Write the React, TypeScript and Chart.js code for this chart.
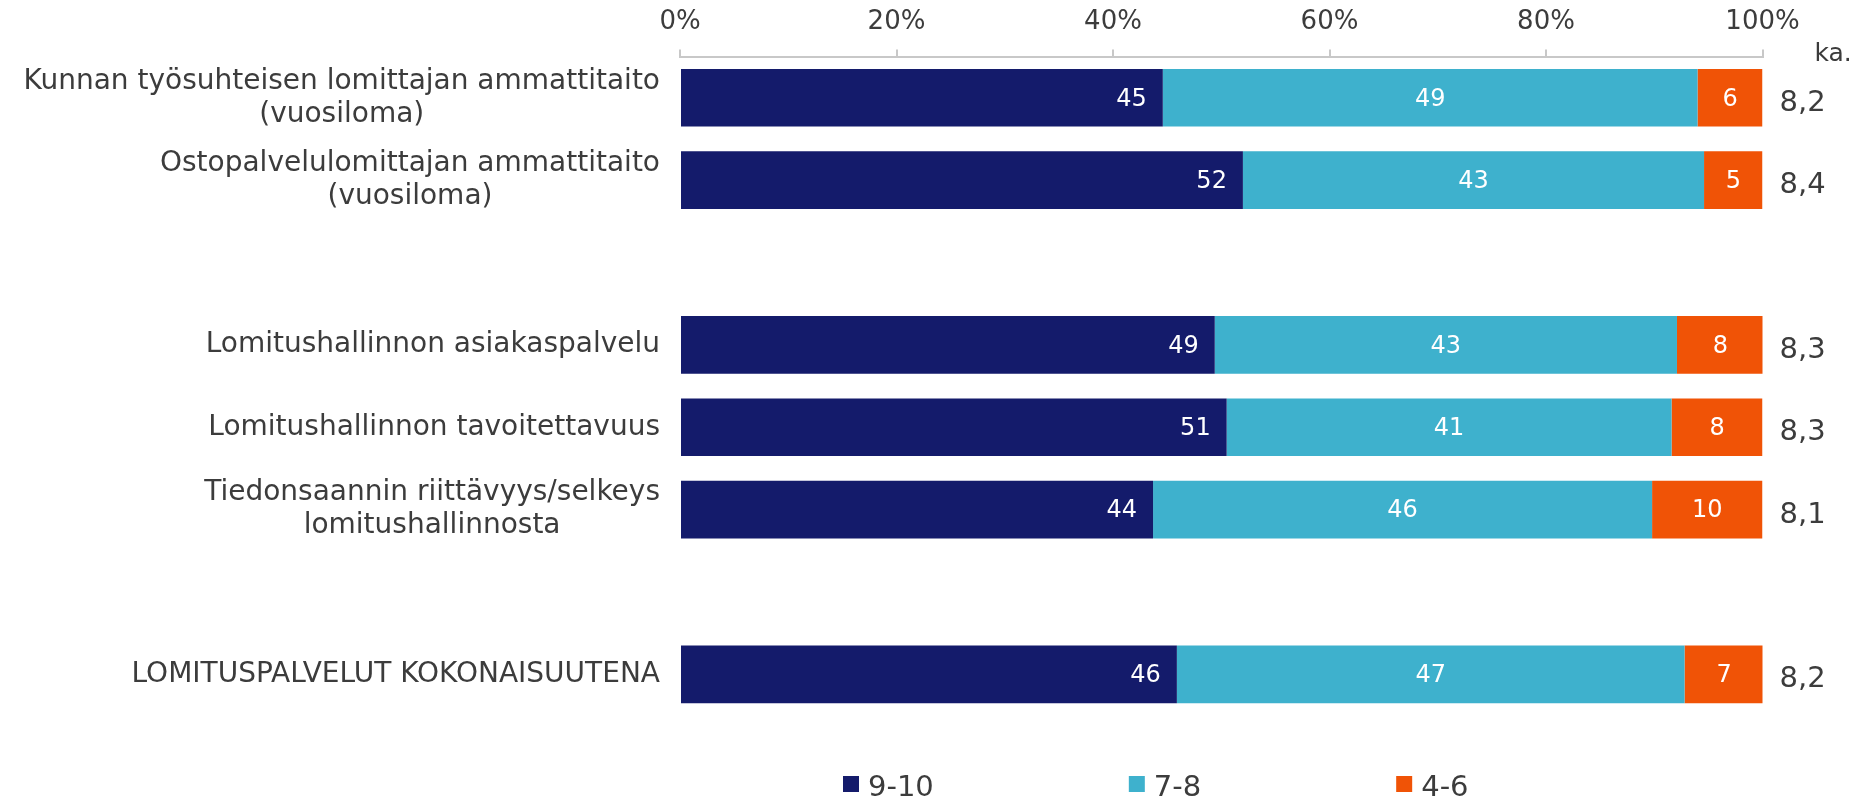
import React, { useEffect, useRef } from 'react';
import { Chart, registerables } from 'chart.js';

Chart.register(...registerables);

// ---- data ----
const categories: string[][] = [
  ['Kunnan työsuhteisen lomittajan ammattitaito', '(vuosiloma)'],
  ['Ostopalvelulomittajan ammattitaito', '(vuosiloma)'],
  [],
  ['Lomitushallinnon asiakaspalvelu'],
  ['Lomitushallinnon tavoitettavuus'],
  ['Tiedonsaannin riittävyys/selkeys', 'lomitushallinnosta'],
  [],
  ['LOMITUSPALVELUT KOKONAISUUTENA'],
];
const seriesNames = ['9-10', '7-8', '4-6'];
const values910: (number | null)[] = [44.6, 52.0, null, 49.4, 50.5, 43.7, null, 45.9];
const values78: (number | null)[] = [49.4, 42.6, null, 42.7, 41.1, 46.1, null, 46.9];
const values46: (number | null)[] = [6.0, 5.4, null, 8.0, 8.4, 10.2, null, 7.3];
const averages = ['8,2', '8,4', '', '8,3', '8,3', '8,1', '', '8,2'];
const avgHeader = 'ka.';
const xTickValues = [0, 20, 40, 60, 80, 100];

// ---- style ----
const FONT = "'DejaVu Sans', Verdana, sans-serif";
const TEXT = '#3c3c3c';
const AXIS = '#c8c8c8';
const colors = ['#141b6b', '#3eb1cd', '#f05306'];

const W = 1860;
const H = 798;

const overlayPlugin = {
  id: 'overlay',
  afterDatasetsDraw(chart: any) {
    const ctx = chart.ctx;
    ctx.save();
    // value labels inside bars
    ctx.fillStyle = '#ffffff';
    ctx.font = `24px ${FONT}`;
    ctx.textBaseline = 'middle';
    chart.data.datasets.forEach((ds: any, i: number) => {
      const meta = chart.getDatasetMeta(i);
      meta.data.forEach((bar: any, j: number) => {
        const v = ds.data[j];
        if (v == null) return;
        const p = bar.getProps(['x', 'y', 'base'], true);
        const txt = String(Math.round(v));
        if (i === 0) {
          ctx.textAlign = 'right';
          ctx.fillText(txt, p.x - 16, p.y + 1.5);
        } else {
          ctx.textAlign = 'center';
          ctx.fillText(txt, (p.x + p.base) / 2, p.y + 1.5);
        }
      });
    });
    ctx.restore();
  },
  afterDraw(chart: any) {
    const ctx = chart.ctx;
    const area = chart.chartArea;
    const yScale = chart.scales.y;
    ctx.save();
    ctx.fillStyle = TEXT;

    // category labels: block right-aligned, lines centered within block
    ctx.font = `28px ${FONT}`;
    ctx.textBaseline = 'middle';
    ctx.textAlign = 'center';
    categories.forEach((lines, j) => {
      if (!lines.length) return;
      const cy = yScale.getPixelForValue(j);
      const maxW = Math.max(...lines.map((l) => ctx.measureText(l).width));
      const cx = area.left - 20 - maxW / 2;
      lines.forEach((l, k) => {
        const ly = cy + (k - (lines.length - 1) / 2) * 33;
        ctx.fillText(l, cx, ly);
      });
    });

    // averages column
    ctx.textAlign = 'left';
    ctx.textBaseline = 'alphabetic';
    ctx.font = `29px ${FONT}`;
    averages.forEach((a, j) => {
      if (!a) return;
      const cy = yScale.getPixelForValue(j);
      ctx.fillText(a, area.right + 17, cy + 13);
    });
    ctx.font = `25px ${FONT}`;
    ctx.fillText(avgHeader, area.right + 52, 61);

    // legend
    ctx.font = `29px ${FONT}`;
    let x = 843;
    seriesNames.forEach((name, i) => {
      ctx.fillStyle = colors[i];
      ctx.fillRect(x, 776, 16, 16);
      ctx.fillStyle = TEXT;
      ctx.fillText(name, x + 25, 796);
      x += 25 + ctx.measureText(name).width + 195;
    });
    ctx.restore();
  },
};

export default function App() {
  const ref = useRef<HTMLCanvasElement | null>(null);

  useEffect(() => {
    if (!ref.current) return;
    Chart.defaults.font.family = FONT;
    const chart = new Chart(ref.current, {
      type: 'bar',
      data: {
        labels: categories.map((c, i) => c.join(' ') || ' '.repeat(i + 1)),
        datasets: [
          { label: seriesNames[0], data: values910, backgroundColor: colors[0] },
          { label: seriesNames[1], data: values78, backgroundColor: colors[1] },
          { label: seriesNames[2], data: values46, backgroundColor: colors[2] },
        ] as any,
      },
      options: {
        indexAxis: 'y',
        responsive: false,
        animation: false,
        devicePixelRatio: 1,
        events: [],
        layout: { padding: { left: 680, right: 97.5, top: 0, bottom: 82.5 } },
        datasets: { bar: { categoryPercentage: 1, barPercentage: 0.7, borderWidth: 0 } },
        plugins: {
          legend: { display: false },
          tooltip: { enabled: false },
          title: { display: false },
        },
        scales: {
          x: {
            position: 'top',
            stacked: true,
            min: 0,
            max: 100,
            afterBuildTicks: (scale: any) => {
              scale.ticks = xTickValues.map((v) => ({ value: v }));
            },
            afterFit: (scale: any) => {
              scale.height = 56.6;
            },
            ticks: {
              callback: (v: any) => `${v}%`,
              font: { family: FONT, size: 26 },
              color: TEXT,
              padding: 12,
              maxRotation: 0,
            },
            grid: {
              drawOnChartArea: false,
              drawTicks: true,
              tickLength: 7,
              color: AXIS,
              lineWidth: 2,
            },
            border: { display: true, color: AXIS, width: 2 },
          },
          y: {
            stacked: true,
            display: false,
          },
        },
      },
      plugins: [overlayPlugin],
    } as any);
    return () => chart.destroy();
  }, []);

  return (
    <div style={{ position: 'absolute', left: 0, top: 0, width: W, height: H, background: '#fff' }}>
      <canvas ref={ref} width={W} height={H} style={{ display: 'block', width: W, height: H }} />
    </div>
  );
}
